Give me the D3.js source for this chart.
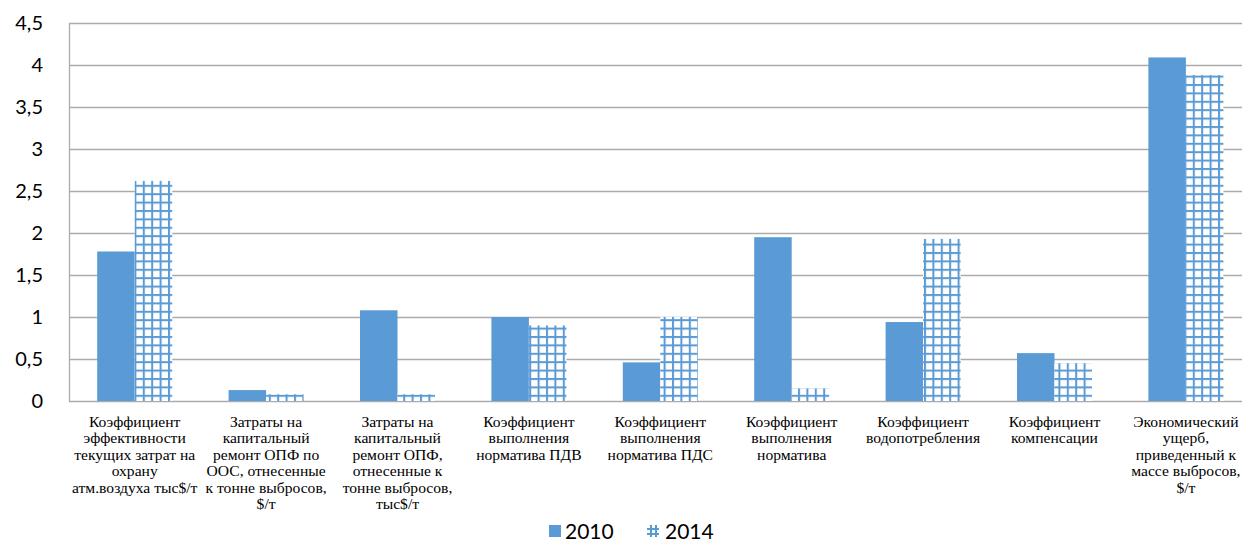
<!DOCTYPE html>
<html><head><meta charset="utf-8">
<script src="https://cdn.jsdelivr.net/npm/d3@7"></script>
<style>body{margin:0;background:#fff;overflow:hidden}svg{display:block}
.xl{font-family:"Liberation Serif","Times New Roman",serif;font-size:15.6px;fill:#000}</style>
</head><body>
<svg id="c" width="1242" height="543"></svg>
<script>
const categories = [
  "Коэффициент\nэффективности\nтекущих затрат на\nохрану\nатм.воздуха тыс$/т",
  "Затраты на\nкапитальный\nремонт ОПФ по\nООС, отнесенные\nк тонне выбросов,\n$/т",
  "Затраты на\nкапитальный\nремонт ОПФ,\nотнесенные к\nтонне выбросов,\nтыс$/т",
  "Коэффициент\nвыполнения\nнорматива ПДВ",
  "Коэффициент\nвыполнения\nнорматива ПДС",
  "Коэффициент\nвыполнения\nнорматива",
  "Коэффициент\nводопотребления",
  "Коэффициент\nкомпенсации",
  "Экономический\nущерб,\nприведенный к\nмассе выбросов,\n$/т"
];
const seriesNames = ["2010", "2014"];
const values2010 = [1.78, 0.13, 1.08, 1.0, 0.46, 1.95, 0.94, 0.57, 4.09];
const values2014 = [2.62, 0.08, 0.08, 0.9, 1.0, 0.15, 1.93, 0.45, 3.88];
const yTicks = [0, 0.5, 1, 1.5, 2, 2.5, 3, 3.5, 4, 4.5];

(function () {
const blue = "#5B9BD5";
const svg = d3.select("#c");
const pLeft = 69, pRight = 1251.6, pTop = 23, pBottom = 401;

const defs = svg.append("defs");
const pat = defs.append("pattern").attr("id", "grid").attr("patternUnits", "userSpaceOnUse")
  .attr("width", 8.4).attr("height", 8.4).attr("x", 0).attr("y", 0);
pat.append("rect").attr("width", 8.4).attr("height", 8.4).attr("fill", "#fff");
pat.append("rect").attr("x", 0).attr("y", 0).attr("width", 2).attr("height", 8.4).attr("fill", blue);
pat.append("rect").attr("x", 0).attr("y", 0).attr("width", 8.4).attr("height", 2).attr("fill", blue);

const x0 = d3.scaleBand().domain(d3.range(categories.length)).range([pLeft, pRight]).paddingInner(0).paddingOuter(0);
const x1 = d3.scaleBand().domain([0, 1]).range([0, x0.bandwidth()]).paddingOuter(0.752).paddingInner(0);
const y = d3.scaleLinear().domain([0, 4.5]).range([pBottom, pTop]);

svg.append("g").selectAll("line").data(yTicks).join("line")
  .attr("x1", pLeft).attr("x2", pRight)
  .attr("y1", d => Math.round(y(d)) + 0.5).attr("y2", d => Math.round(y(d)) + 0.5)
  .attr("stroke", "#ababab").attr("stroke-width", 1.3);
svg.append("line").attr("x1", pLeft + 0.5).attr("x2", pLeft + 0.5).attr("y1", y(4.5)).attr("y2", pBottom + 1)
  .attr("stroke", "#ababab").attr("stroke-width", 1.3);

const fmt = d => String(d).replace(".", ",");
svg.append("g").selectAll("text").data(yTicks).join("text")
  .attr("x", 43).attr("y", d => y(d) + 7)
  .attr("text-anchor", "end").attr("font-family", "Lato, 'Open Sans', sans-serif")
  .attr("font-size", 20).attr("fill", "#000").text(fmt);

const series = [values2010, values2014];
const g = svg.append("g");
series.forEach((vals, si) => {
  g.selectAll(null).data(vals).join("rect")
    .attr("x", (d, i) => x0(i) + x1(si))
    .attr("width", x1.bandwidth())
    .attr("y", d => y(d))
    .attr("height", d => y(0) - y(d))
    .attr("fill", si === 0 ? blue : "url(#grid)");
});

const lab = svg.append("g");
categories.forEach((c, i) => {
  const t = lab.append("text").attr("class", "xl").attr("text-anchor", "middle");
  c.split("\n").forEach((ln, k) => {
    t.append("tspan").attr("x", x0(i) + x0.bandwidth() / 2).attr("y", 426.5 + k * 16.5).text(ln);
  });
});

const lg = svg.append("g");
lg.append("rect").attr("x", 549).attr("y", 525).attr("width", 12).attr("height", 12).attr("fill", blue);
lg.append("text").attr("x", 565).attr("y", 539).attr("font-family", "Lato, 'Open Sans', sans-serif")
  .attr("font-size", 21).text(seriesNames[0]);
const hx = 647, hy = 525;
[[hx + 3, hy, 2, 12], [hx + 8, hy, 2, 12], [hx, hy + 3, 12, 2], [hx, hy + 8, 12, 2]].forEach(r =>
  lg.append("rect").attr("x", r[0]).attr("y", r[1]).attr("width", r[2]).attr("height", r[3]).attr("fill", blue));
lg.append("text").attr("x", 665).attr("y", 539).attr("font-family", "Lato, 'Open Sans', sans-serif")
  .attr("font-size", 21).text(seriesNames[1]);
})();
</script>
</body></html>
